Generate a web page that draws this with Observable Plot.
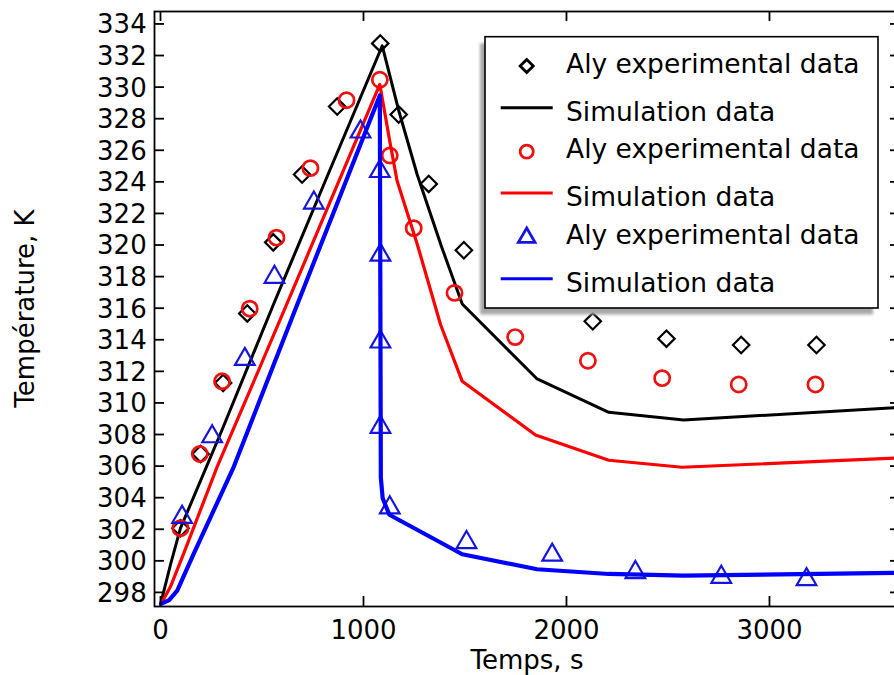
<!DOCTYPE html>
<html><head><meta charset="utf-8">
<script src="https://cdn.jsdelivr.net/npm/d3@7"></script>
<script src="https://cdn.jsdelivr.net/npm/@observablehq/plot@0.6"></script>
<style>
html,body{margin:0;padding:0;background:#fff;overflow:hidden;width:894px;height:675px}
#chart svg{display:block;max-width:none !important;width:904px !important;height:675px !important}
</style></head><body><div id="chart"></div>
<script>
// ---- data ----
const blackExpTime = [96, 195, 306, 425, 553, 695, 868, 1080, 1171, 1319, 1492, 2127, 2490, 2858, 3229];
const blackExpTemp = [302.1, 306.8, 311.3, 315.7, 320.2, 324.5, 328.8, 332.8, 328.3, 323.9, 319.7, 315.2, 314.1, 313.7, 313.7];
const blackSimTime = [0, 47, 96, 300, 555, 800, 1090, 1170, 1262, 1380, 1484, 1853, 2206, 2575, 3643];
const blackSimTemp = [297.4, 299.8, 302.1, 308.3, 316.3, 323.8, 332.65, 328.6, 324.5, 320.0, 316.3, 311.55, 309.44, 308.95, 309.75];

const redExpTime = [96, 191, 301, 437, 569, 736, 914, 1078, 1127, 1245, 1446, 1745, 2103, 2469, 2846, 3224];
const redExpTemp = [302.1, 306.8, 311.4, 316.0, 320.5, 324.9, 329.2, 330.5, 325.7, 321.1, 317.0, 314.2, 312.7, 311.6, 311.2, 311.2];
const redSimTime = [0, 47, 112, 277, 441, 630, 1078, 1127, 1163, 1262, 1377, 1484, 1845, 2206, 2567, 3643];
const redSimTemp = [297.3, 298.4, 300.5, 306.0, 310.9, 316.6, 330.2, 326.6, 324.1, 320.1, 315.0, 311.4, 308.0, 306.4, 305.96, 306.55];

const blueExpTime = [104, 252, 413, 559, 753, 983, 1078, 1081, 1081, 1081, 1127, 1505, 1927, 2337, 2760, 3180];
const blueExpTemp = [302.8, 307.9, 312.8, 318.0, 322.7, 327.2, 324.7, 319.4, 313.9, 308.5, 303.4, 301.2, 300.4, 299.3, 299.0, 298.85];
const blueSimTime = [0, 40, 80, 162, 359, 663, 1078, 1083, 1092, 1125, 1484, 1853, 2206, 2575, 3643];
const blueSimTemp = [297.3, 297.55, 298.15, 300.5, 306.0, 316.0, 329.5, 305.3, 304.0, 302.95, 300.45, 299.5, 299.2, 299.1, 299.27];

const xTicks = [0, 1000, 2000, 3000];
const yTicks = [298, 300, 302, 304, 306, 308, 310, 312, 314, 316, 318, 320, 322, 324, 326, 328, 330, 332, 334];
const xLabel = "Temps, s";
const yLabel = "Température, K";
const legendLabels = ["Aly experimental data", "Simulation data", "Aly experimental data", "Simulation data", "Aly experimental data", "Simulation data"];
const seriesColors = ["#000000", "#ee1111", "#1515dd"];
const lineColors = ["#000000", "#ff0000", "#0000ff"];

const zip = (t, T) => t.map((v, i) => ({t: v, T: T[i]}));
const blackExp = zip(blackExpTime, blackExpTemp), blackSim = zip(blackSimTime, blackSimTemp);
const redExp = zip(redExpTime, redExpTemp), redSim = zip(redSimTime, redSimTemp);
const blueExp = zip(blueExpTime, blueExpTemp), blueSim = zip(blueSimTime, blueSimTemp);

const FONT = "'DejaVu Sans', 'Liberation Sans', sans-serif";
const diamond = d3.symbolDiamond2 || {draw(ctx, size){const r=Math.sqrt(size)*0.62625;ctx.moveTo(0,-r);ctx.lineTo(r,0);ctx.lineTo(0,r);ctx.lineTo(-r,0);ctx.closePath();}};

const plot = Plot.plot({
  width: 904, height: 675,
  marginLeft: 154, marginRight: 4, marginTop: 11, marginBottom: 69,
  style: {fontFamily: FONT, fontSize: "26px", color: "#000", background: "#fff", maxWidth: "none"},
  x: {domain: [-32, 3643], axis: null},
  y: {domain: [297.14, 334.82], axis: null},
  marks: [
    Plot.dot(blackExp, {x: "t", y: "T", symbol: diamond, r: 7.4, stroke: seriesColors[0], strokeWidth: 2.2, fill: "none"}),
    Plot.line(blackSim, {x: "t", y: "T", stroke: lineColors[0], strokeWidth: 3}),
    Plot.dot(redExp, {x: "t", y: "T", symbol: "circle", r: 7.6, stroke: seriesColors[1], strokeWidth: 2.7, fill: "none"}),
    Plot.line(redSim, {x: "t", y: "T", stroke: lineColors[1], strokeWidth: 3.2}),
    Plot.dot(blueExp, {x: "t", y: "T", symbol: "triangle", r: 7.3, stroke: seriesColors[2], strokeWidth: 2.2, fill: "none"}),
    Plot.line(blueSim, {x: "t", y: "T", stroke: lineColors[2], strokeWidth: 4.2}),
    Plot.frame({stroke: "#000", strokeWidth: 1.8})
  ]
});

const svg = d3.select(plot);
const sx = plot.scale("x"), sy = plot.scale("y");
const [L, R] = sx.range, [B, T] = sy.range;
const tickLen = 10;
const tg = svg.append("g").attr("stroke", "#000").attr("stroke-width", 1.8);
const tl = svg.append("g").attr("font-family", FONT).attr("font-size", 26).attr("fill", "#000");
xTicks.forEach(v => {
  const X = sx.apply(v);
  tg.append("line").attr("x1", X).attr("x2", X).attr("y1", B).attr("y2", B - tickLen);
  tg.append("line").attr("x1", X).attr("x2", X).attr("y1", T).attr("y2", T + tickLen);
  tl.append("text").attr("x", X).attr("y", 639).attr("text-anchor", "middle").text(String(v));
});
yTicks.forEach(v => {
  const Y = sy.apply(v);
  tg.append("line").attr("x1", L).attr("x2", L + tickLen).attr("y1", Y).attr("y2", Y);
  tg.append("line").attr("x1", R).attr("x2", R - tickLen).attr("y1", Y).attr("y2", Y);
  tl.append("text").attr("x", 146.7).attr("y", Y + 9.4).attr("text-anchor", "end").text(String(v));
});

// axis titles
svg.append("text").attr("x", (L + R) / 2).attr("y", 669).attr("text-anchor", "middle")
  .attr("font-family", FONT).attr("font-size", 26).attr("fill", "#000").text(xLabel);
svg.append("text").attr("transform", `translate(34,${(T + B) / 2}) rotate(-90)`).attr("text-anchor", "middle")
  .attr("font-family", FONT).attr("font-size", 26).attr("fill", "#000").text(yLabel);

// legend
const defs = svg.append("defs");
defs.append("filter").attr("id", "lgshadow").attr("x", "-10%").attr("y", "-10%").attr("width", "120%").attr("height", "120%")
  .append("feGaussianBlur").attr("stdDeviation", 1.6);
const lg = svg.append("g");
const bx = 485, by = 36.7, bw = 393, bh = 271.3;
lg.append("rect").attr("x", bx - 5).attr("y", by + 6.5).attr("width", bw).attr("height", bh)
  .attr("fill", "#a8a8a8").attr("filter", "url(#lgshadow)");
lg.append("rect").attr("x", bx).attr("y", by).attr("width", bw).attr("height", bh)
  .attr("fill", "#fff").attr("stroke", "#000").attr("stroke-width", 1.6);
const baselines = [72.7, 120.7, 158.3, 206, 244.3, 291.7];
const legSymbols = [diamond, d3.symbolCircle, d3.symbolTriangle];
const legSizes = [110, 135, 120];
legendLabels.forEach((lab, i) => {
  const s = Math.floor(i / 2);
  const yb = baselines[i];
  if (i % 2 === 0) {
    lg.append("path").attr("d", d3.symbol(legSymbols[s], legSizes[s])())
      .attr("transform", `translate(526.7,${yb - 6.7})`)
      .attr("fill", "none").attr("stroke", seriesColors[s]).attr("stroke-width", 2.8);
  } else {
    lg.append("line").attr("x1", 500.7).attr("x2", 552.7).attr("y1", yb - 13).attr("y2", yb - 13)
      .attr("stroke", lineColors[s]).attr("stroke-width", 3);
  }
  lg.append("text").attr("x", 566).attr("y", yb).attr("text-anchor", "start").attr("font-family", FONT).attr("font-size", 26.5)
    .attr("fill", "#000").text(lab);
});

document.getElementById("chart").appendChild(plot);
</script></body></html>
